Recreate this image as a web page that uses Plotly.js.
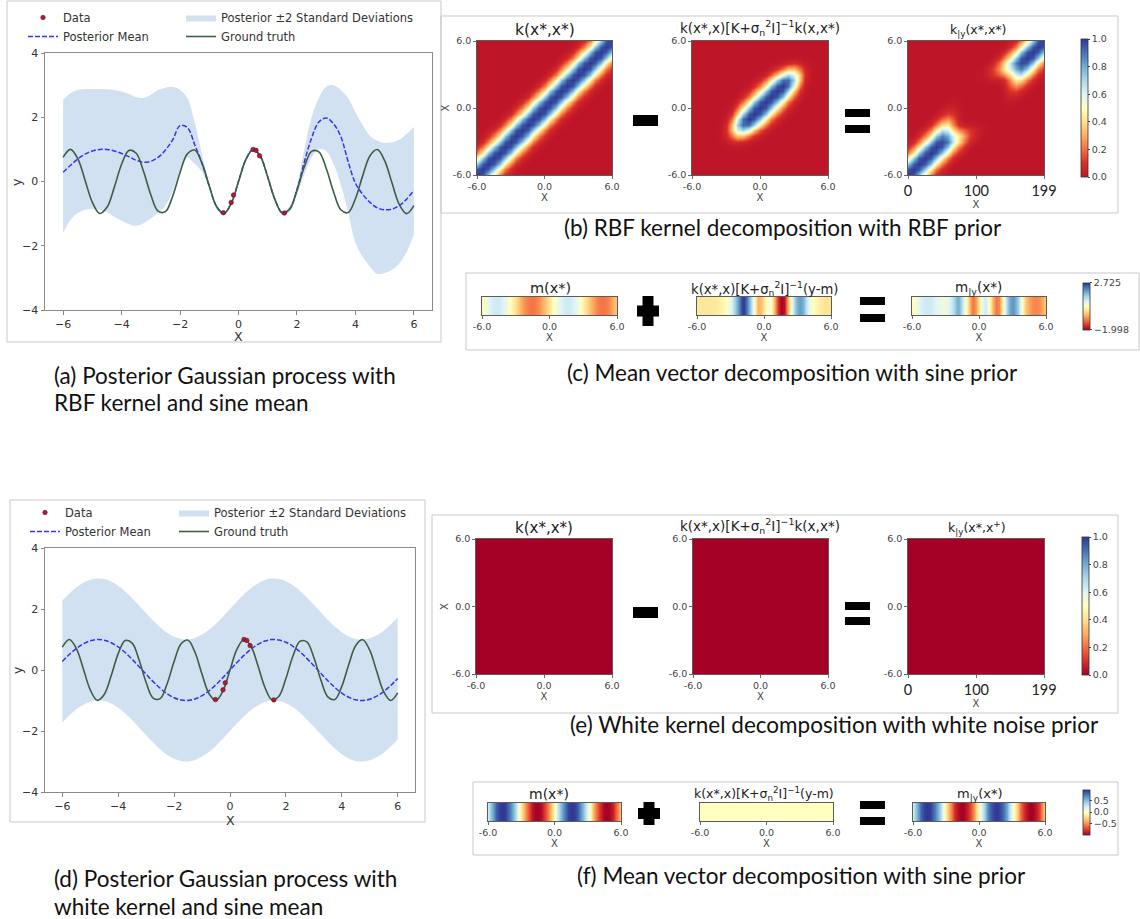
<!DOCTYPE html>
<html>
<head>
<meta charset="utf-8">
<script src="https://cdn.plot.ly/plotly-3.0.1.min.js"></script>
<style>
html,body{margin:0;padding:0;background:#fff;}
#chart{width:1140px;height:919px;}
</style>
</head>
<body>
<div id="chart"></div>
<script>
// ---------------- DATA ----------------
const xs = [-6,-5.75,-5.5,-5.25,-5,-4.75,-4.5,-4.25,-4,-3.75,-3.5,-3.25,-3,-2.75,-2.5,-2.25,-2,-1.75,-1.5,-1.25,-1,-0.75,-0.5,-0.25,0,0.25,0.5,0.75,1,1.25,1.5,1.75,2,2.25,2.5,2.75,3,3.25,3.5,3.75,4,4.25,4.5,4.75,5,5.25,5.5,5.75,6];

const groundTruth = [0.751,1.0,0.712,0.042,-0.650,-0.994,-0.804,-0.183,0.537,0.968,0.880,0.320,-0.412,-0.922,-0.938,-0.450,0.279,0.859,0.978,0.572,-0.141,-0.778,-0.998,-0.682,0,0.682,0.998,0.778,0.141,-0.572,-0.978,-0.859,-0.279,0.450,0.938,0.922,0.412,-0.320,-0.880,-0.968,-0.537,0.183,0.804,0.994,0.650,-0.042,-0.712,-1.0,-0.751];

// panel (a): RBF kernel, sine mean
const postMeanRBF = [0.29,0.5,0.7,0.85,0.95,1.0,1.0,0.95,0.87,0.77,0.66,0.6,0.63,0.75,0.98,1.3,1.74,1.68,1.15,0.57,-0.14,-0.78,-1.0,-0.68,0.0,0.68,1.0,0.78,0.14,-0.57,-0.98,-0.86,-0.26,0.6,1.35,1.85,1.98,1.8,1.4,0.62,-0.05,-0.4,-0.65,-0.82,-0.88,-0.86,-0.75,-0.55,-0.28];
const upperRBF = [2.55,2.75,2.85,2.88,2.88,2.88,2.87,2.85,2.8,2.72,2.62,2.6,2.7,2.85,2.92,2.95,2.85,2.6,1.85,0.85,-0.05,-0.72,-0.95,-0.63,0.05,0.73,1.04,0.83,0.2,-0.5,-0.93,-0.78,-0.12,1.0,2.0,2.6,2.95,3.0,2.85,2.6,2.15,1.75,1.42,1.27,1.2,1.22,1.3,1.48,1.7];
const lowerRBF = [-1.6,-1.2,-0.98,-0.88,-0.85,-0.88,-0.95,-1.1,-1.22,-1.32,-1.38,-1.3,-1.15,-0.98,-0.75,-0.3,0.35,0.75,0.55,0.3,-0.23,-0.85,-1.05,-0.73,-0.05,0.63,0.96,0.73,0.08,-0.64,-1.03,-0.94,-0.4,0.2,0.75,1.0,0.95,0.55,-0.1,-0.95,-1.9,-2.35,-2.65,-2.88,-2.85,-2.75,-2.55,-2.2,-1.65];

// sine prior mean m(x*) (= posterior mean of panel (d))
const priorMeanSine = [0.279,0.509,0.706,0.859,0.959,0.999,0.978,0.895,0.757,0.572,0.351,0.108,-0.141,-0.382,-0.598,-0.778,-0.909,-0.984,-0.997,-0.949,-0.841,-0.682,-0.479,-0.247,0,0.247,0.479,0.682,0.841,0.949,0.997,0.984,0.909,0.778,0.598,0.382,0.141,-0.108,-0.351,-0.572,-0.757,-0.895,-0.978,-0.999,-0.959,-0.859,-0.706,-0.509,-0.279];
const postMeanWhite = [0.279,0.509,0.706,0.859,0.959,0.999,0.978,0.895,0.757,0.572,0.351,0.108,-0.141,-0.382,-0.598,-0.778,-0.909,-0.984,-0.997,-0.949,-0.841,-0.682,-0.479,-0.247,0,0.247,0.479,0.682,0.841,0.949,0.997,0.984,0.909,0.778,0.598,0.382,0.141,-0.108,-0.351,-0.572,-0.757,-0.895,-0.978,-0.999,-0.959,-0.859,-0.706,-0.509,-0.279];
const upperWhite = [2.28,2.51,2.71,2.86,2.96,3.0,2.98,2.9,2.76,2.57,2.35,2.11,1.86,1.62,1.4,1.22,1.09,1.02,1.0,1.05,1.16,1.32,1.52,1.75,2.0,2.25,2.48,2.68,2.84,2.95,3.0,2.98,2.91,2.78,2.6,2.38,2.14,1.89,1.65,1.43,1.24,1.1,1.02,1.0,1.04,1.14,1.29,1.49,1.72];
const lowerWhite = [-1.72,-1.49,-1.29,-1.14,-1.04,-1.0,-1.02,-1.1,-1.24,-1.43,-1.65,-1.89,-2.14,-2.38,-2.6,-2.78,-2.91,-2.98,-3.0,-2.95,-2.84,-2.68,-2.48,-2.25,-2.0,-1.75,-1.52,-1.32,-1.16,-1.05,-1.0,-1.02,-1.09,-1.22,-1.4,-1.62,-1.86,-2.11,-2.35,-2.57,-2.76,-2.9,-2.98,-3.0,-2.96,-2.86,-2.71,-2.51,-2.28];

const dataX = [-0.52,-0.25,-0.17,0.5,0.6,0.72,1.57];
const dataY = [-0.97,-0.65,-0.42,1.0,0.97,0.8,-0.98];

// covariance heat maps: grid of x*, kernel value by lag (step 0.5), explained weight per x
const gridK = [-6,-5.5,-5,-4.5,-4,-3.5,-3,-2.5,-2,-1.5,-1,-0.5,0,0.5,1,1.5,2,2.5,3,3.5,4,4.5,5,5.5,6];
const rbfLagProfile = [1.0,0.95,0.75,0.45,0.22,0.08,0.02,0.0];
const explainedWeightRBF = [0,0,0,0,0,0.03,0.15,0.45,0.78,0.96,1,1,1,1,1,1,1,0.96,0.78,0.45,0.15,0.03,0,0,0];
const whiteLagProfile = [0.0];           // no visible diagonal in the picture
const explainedWeightWhite = [0,0,0,0,0,0,0,0,0,0,0,0,0,0,0,0,0,0,0,0,0,0,0,0,0];

const squareTicks = [-6,0,6], squareTickText = ['-6.0','0.0','6.0'];
const indexTicks = [0,100,199];
const cbTicksK = [0,0.2,0.4,0.6,0.8,1.0], cbTextK = ['0.0','0.2','0.4','0.6','0.8','1.0'];
const cbRangeC = [-1.998,2.725];
const cbRangeF = [-1,1], cbTicksF = [0.5,0,-0.5], cbTextF = ['0.5','0.0','\u22120.5'];

// ---------------- BUILD ----------------
const W = 1140, H = 919;
const PX = v => v / W, PY = v => 1 - v / H;

function lagMatrix(profile, n) {
  const z = [];
  for (let i = 0; i < n; i++) {
    const r = [];
    for (let j = 0; j < n; j++) {
      const d = Math.abs(i - j);
      r.push(d < profile.length ? profile[d] : profile[profile.length - 1]);
    }
    z.push(r);
  }
  return z;
}
const nK = gridK.length;
const b1 = lagMatrix(rbfLagProfile, nK);
const b2 = b1.map((r, i) => r.map((v, j) => v * explainedWeightRBF[i] * explainedWeightRBF[j]));
const b3 = b1.map((r, i) => r.map((v, j) => v - b2[i][j]));
const e1 = lagMatrix(whiteLagProfile, nK);
const e2 = e1.map((r, i) => r.map((v, j) => v * explainedWeightWhite[i] * explainedWeightWhite[j]));
const e3 = e1.map((r, i) => r.map((v, j) => v - e2[i][j]));
const gridIdx = gridK.map(v => (v + 6) / 12 * 199);

const corrRBF = postMeanRBF.map((v, i) => v - priorMeanSine[i]);
const corrWhite = postMeanWhite.map((v, i) => v - priorMeanSine[i]);

const RdYlBu = [[0,'#a50026'],[0.1,'#d73027'],[0.2,'#f46d43'],[0.3,'#fdae61'],[0.4,'#fee090'],[0.5,'#ffffbf'],[0.6,'#e0f3f8'],[0.7,'#abd9e9'],[0.8,'#74add1'],[0.9,'#4575b4'],[1,'#313695']];
const RdYlBuB = [[0,'#bf1529'],[0.1,'#d73027'],[0.2,'#f46d43'],[0.3,'#fdae61'],[0.4,'#fee090'],[0.5,'#ffffbf'],[0.6,'#e0f3f8'],[0.7,'#abd9e9'],[0.8,'#74add1'],[0.9,'#4575b4'],[1,'#313695']];

const FONT = 'DejaVu Sans';
const traces = [];

function gpPanel(ax, ay, lower, upper, mean, lgA, lgB) {
  traces.push({x: xs, y: lower, type:'scatter', mode:'lines', line:{width:0, shape:'spline'}, xaxis:ax, yaxis:ay, showlegend:false, hoverinfo:'skip'});
  traces.push({x: xs, y: upper, type:'scatter', mode:'lines', line:{width:0, shape:'spline'}, fill:'tonexty', fillcolor:'rgba(165,195,228,0.5)', xaxis:ax, yaxis:ay, name:'Posterior \u00b12 Standard Deviations', legend:lgB, legendrank:1, hoverinfo:'skip'});
  traces.push({x: xs, y: mean, type:'scatter', mode:'lines', line:{color:'#3434f0', width:1.5, dash:'5px,2px', shape:'spline'}, xaxis:ax, yaxis:ay, name:'Posterior Mean', legend:lgA, legendrank:2});
  traces.push({x: xs, y: groundTruth, type:'scatter', mode:'lines', line:{color:'#3d5e44', width:1.6, shape:'spline'}, xaxis:ax, yaxis:ay, name:'Ground truth', legend:lgB, legendrank:2});
  traces.push({x: dataX, y: dataY, type:'scatter', mode:'markers', marker:{color:'#c8102e', size:4.5, line:{color:'#2a2a2a', width:0.6}}, xaxis:ax, yaxis:ay, name:'Data', legend:lgA, legendrank:1});
}
gpPanel('x', 'y', lowerRBF, upperRBF, postMeanRBF, 'legend', 'legend2');
gpPanel('x2', 'y2', lowerWhite, upperWhite, postMeanWhite, 'legend3', 'legend4');

function hm(n, x, y, z, ca) {
  traces.push({type:'heatmap', x:x, y:y, z:z, coloraxis:ca, zsmooth:'best', xaxis:'x'+n, yaxis:'y'+n, hoverinfo:'skip'});
}
hm(3, gridK, gridK, b1, 'coloraxis');
hm(4, gridK, gridK, b2, 'coloraxis');
hm(5, gridIdx, gridK, b3, 'coloraxis');
hm(6, xs, [0,1], [priorMeanSine, priorMeanSine], 'coloraxis2');
hm(7, xs, [0,1], [corrRBF, corrRBF], 'coloraxis2');
hm(8, xs, [0,1], [postMeanRBF, postMeanRBF], 'coloraxis2');
hm(9, gridK, gridK, e1, 'coloraxis3');
hm(10, gridK, gridK, e2, 'coloraxis3');
hm(11, gridIdx, gridK, e3, 'coloraxis3');
hm(12, xs, [0,1], [priorMeanSine, priorMeanSine], 'coloraxis4');
hm(13, xs, [0,1], [corrWhite, corrWhite], 'coloraxis4');
hm(14, xs, [0,1], [postMeanWhite, postMeanWhite], 'coloraxis4');

// ---------------- LAYOUT ----------------
const layout = {
  width: W, height: H, margin:{l:0, r:0, t:0, b:0},
  paper_bgcolor:'#fff', plot_bgcolor:'#fff',
  font:{family:FONT, color:'#333'},
  showlegend:true,
  shapes: [], annotations: []
};

function gpAxes(n, x0, x1, y0, y1) {
  const sx = n === 1 ? '' : String(n);
  layout['xaxis'+sx] = {domain:[PX(x0), PX(x1)], anchor:'y'+sx, range:[-6.62,6.62], tickvals:[-6,-4,-2,0,2,4,6],
    ticks:'outside', ticklen:3.5, tickwidth:0.8, tickcolor:'#666', tickfont:{family:FONT, size:11, color:'#333'},
    showline:true, mirror:true, linecolor:'#8a8a8a', linewidth:1, showgrid:false, zeroline:false};
  layout['yaxis'+sx] = {domain:[PY(y1), PY(y0)], anchor:'x'+sx, range:[-4,4], tickvals:[-4,-2,0,2,4],
    ticks:'outside', ticklen:3.5, tickwidth:0.8, tickcolor:'#666', tickfont:{family:FONT, size:11, color:'#333'},
    showline:true, mirror:true, linecolor:'#8a8a8a', linewidth:1, showgrid:false, zeroline:false};
}
gpAxes(1, 45, 432, 53, 310);
gpAxes(2, 45, 415, 548, 792);

const hmPanels = [
  {n:3, x:[477,612], y:[41,175], kind:'sq', ytitle:true},
  {n:4, x:[692,828], y:[41,175], kind:'sq'},
  {n:5, x:[908,1044], y:[41,175], kind:'sq', idx:true},
  {n:6, x:[482,617], y:[297,315], kind:'strip'},
  {n:7, x:[697,831], y:[297,315], kind:'strip'},
  {n:8, x:[912,1046], y:[297,315], kind:'strip'},
  {n:9, x:[476,612], y:[539,674], kind:'sq', ytitle:true},
  {n:10, x:[693,828], y:[539,674], kind:'sq'},
  {n:11, x:[908,1044], y:[539,674], kind:'sq', idx:true},
  {n:12, x:[488,621], y:[803,821], kind:'strip'},
  {n:13, x:[700,833], y:[803,821], kind:'strip'},
  {n:14, x:[913,1045], y:[803,821], kind:'strip'}
];
const hmAxBase = {showgrid:false, zeroline:false, showline:true, mirror:true, linecolor:'#333', linewidth:0.8,
  ticks:'outside', ticklen:3, tickwidth:0.8, tickcolor:'#444', tickfont:{family:FONT, size:9.5, color:'#444'}};
hmPanels.forEach(p => {
  const xa = Object.assign({}, hmAxBase, {domain:[PX(p.x[0]), PX(p.x[1])], anchor:'y'+p.n,
    title:{text:'X', font:{family:FONT, size:10, color:'#444'}, standoff:1}});
  if (p.idx) {
    Object.assign(xa, {range:[0,199], tickvals:indexTicks, ticktext:indexTicks.map(String), tickfont:{family:'Lato', size:14.5, color:'#222'}});
  } else {
    Object.assign(xa, {range:[-6,6], tickvals:squareTicks, ticktext:squareTickText});
  }
  const ya = Object.assign({}, hmAxBase, {domain:[PY(p.y[1]), PY(p.y[0])], anchor:'x'+p.n});
  if (p.kind === 'sq') {
    Object.assign(ya, {range:[-6,6], tickvals:squareTicks, ticktext:squareTickText});
    if (p.ytitle) ya.title = {text:'X', font:{family:FONT, size:10, color:'#444'}, standoff:1};
  } else {
    Object.assign(ya, {range:[-0.5,1.5], showticklabels:false, ticks:''});
  }
  layout['xaxis'+p.n] = xa;
  layout['yaxis'+p.n] = ya;
});

function cbar(x, yc, len, tickvals, ticktext) {
  return {x:PX(x), xanchor:'left', xref:'paper', y:PY(yc), yanchor:'middle', yref:'paper', len:len, lenmode:'pixels',
    thickness:7, thicknessmode:'pixels', outlinewidth:0.8, outlinecolor:'#333', xpad:0, ypad:0,
    tickvals:tickvals, ticktext:ticktext, ticks:'outside', ticklen:2, tickcolor:'#444',
    tickfont:{family:FONT, size:9.5, color:'#444'}};
}
layout.coloraxis  = {colorscale:RdYlBuB, cmin:0, cmax:1, colorbar:cbar(1081, 108, 138, cbTicksK, cbTextK)};
layout.coloraxis2 = {colorscale:RdYlBu, cmin:cbRangeC[0], cmax:cbRangeC[1], colorbar:cbar(1083, 306, 47, [cbRangeC[1], cbRangeC[0]], ['2.725','\u22121.998'])};
layout.coloraxis3 = {colorscale:RdYlBu, cmin:0, cmax:1, colorbar:cbar(1082, 606, 138, cbTicksK, cbTextK)};
layout.coloraxis4 = {colorscale:RdYlBu, cmin:cbRangeF[0], cmax:cbRangeF[1], colorbar:cbar(1083, 812, 45, cbTicksF, cbTextF)};

function legendAt(x, y) {
  return {x:PX(x), y:PY(y), xanchor:'left', yanchor:'top', orientation:'v', bgcolor:'rgba(0,0,0,0)',
    font:{family:FONT, size:11.5, color:'#333'}, itemwidth:30, tracegroupgap:0, traceorder:'normal'};
}
layout.legend  = legendAt(23, 3);
layout.legend2 = legendAt(181, 3);
layout.legend3 = legendAt(25, 498);
layout.legend4 = legendAt(174, 498);

// frames
function rect(x0, y0, x1, y1, opt) {
  return Object.assign({type:'rect', xref:'paper', yref:'paper', x0:PX(x0), x1:PX(x1), y0:PY(y1), y1:PY(y0)}, opt);
}
const frame = {line:{color:'#c9c9c9', width:1}, fillcolor:'rgba(0,0,0,0)', layer:'below'};
layout.shapes.push(rect(7, 1, 441, 342, frame));
layout.shapes.push(rect(441, 16, 1118, 213, frame));
layout.shapes.push(rect(466, 273, 1139, 350, frame));
layout.shapes.push(rect(10, 500, 425, 822, frame));
layout.shapes.push(rect(432, 515, 1118, 713, frame));
layout.shapes.push(rect(473, 782, 1118, 855, frame));

// operators
const blk = {line:{width:0}, fillcolor:'#000', layer:'above'};
function minus(x0, y0) { layout.shapes.push(rect(x0, y0, x0+25, y0+11, blk)); }
function equals(x0, y0a, y0b) { layout.shapes.push(rect(x0, y0a, x0+25, y0a+8, blk)); layout.shapes.push(rect(x0, y0b, x0+25, y0b+8, blk)); }
function plus(x0, y0, w, h) {
  layout.shapes.push(rect(x0, y0 + h/2 - 5.5, x0 + w, y0 + h/2 + 5.5, blk));
  layout.shapes.push(rect(x0 + w/2 - 5.5, y0, x0 + w/2 + 5.5, y0 + h, blk));
}
minus(633, 115); equals(845, 109, 125);
plus(637, 296, 22, 30); equals(860, 297, 314);
minus(633, 607); equals(845, 602, 617);
plus(638, 802, 22, 23); equals(860, 801, 817);

// text
function ann(x, y, text, size, opt) {
  layout.annotations.push(Object.assign({xref:'paper', yref:'paper', x:PX(x), y:PY(y), text:text, showarrow:false,
    xanchor:'center', yanchor:'middle', font:{family:FONT, size:size, color:'#222'}}, opt || {}));
}
// axis titles of the GP panels
const AX = {family:FONT, size:12.5, color:'#333'};
ann(238, 336, 'X', 12.5, {font:AX});
ann(17, 182, 'y', 12.5, {font:AX, textangle:-90});
ann(230, 820, 'X', 12.5, {font:AX});
ann(17, 670, 'y', 12.5, {font:AX, textangle:-90});

const T2K = 'k(x*,x)[K+\u03c3<sub>n</sub><sup>2</sup>I]<sup>\u22121</sup>k(x,x*)';
const T2M = 'k(x*,x)[K+\u03c3<sub>n</sub><sup>2</sup>I]<sup>\u22121</sup>(y-m)';
ann(545, 30, 'k(x*,x*)', 15.5);
ann(760, 28, T2K, 13.5);
ann(978, 30, 'k<sub>|y</sub>(x*,x*)', 12.5);
ann(550, 288, 'm(x*)', 14.5);
ann(764, 288, T2M, 13.2);
ann(978, 288, 'm<sub>|y</sub>(x*)', 13.5);
ann(544, 528, 'k(x*,x*)', 15);
ann(760, 526, T2K, 13.5);
ann(977, 528, 'k<sub>|y</sub>(x*,x<sup>+</sup>)', 12.5);
ann(549, 794, 'm(x*)', 14);
ann(764, 794, T2M, 12.5);
ann(979, 794, 'm<sub>|y</sub>(x*)', 13);

const CAP = {family:'Lato', size:22.5, color:'#111'};
ann(52, 375, '(a) Posterior Gaussian process with', 22.5, {xanchor:'left', font:CAP});
ann(52, 402, 'RBF kernel and sine mean', 22.5, {xanchor:'left', font:CAP});
ann(783, 227, '(b) RBF kernel decomposition with RBF prior', 22.5, {font:CAP});
ann(792, 372, '(c) Mean vector decomposition with sine prior', 22.5, {font:CAP});
ann(52, 878, '(d) Posterior Gaussian process with', 22.5, {xanchor:'left', font:CAP});
ann(52, 906, 'white kernel and sine mean', 22.5, {xanchor:'left', font:CAP});
ann(834, 724, '(e) White kernel decomposition with white noise prior', 22.5, {font:CAP});
ann(801, 875, '(f) Mean vector decomposition with sine prior', 22.5, {font:CAP});

Plotly.newPlot('chart', traces, layout, {displayModeBar:false, staticPlot:true});
</script>
</body>
</html>
